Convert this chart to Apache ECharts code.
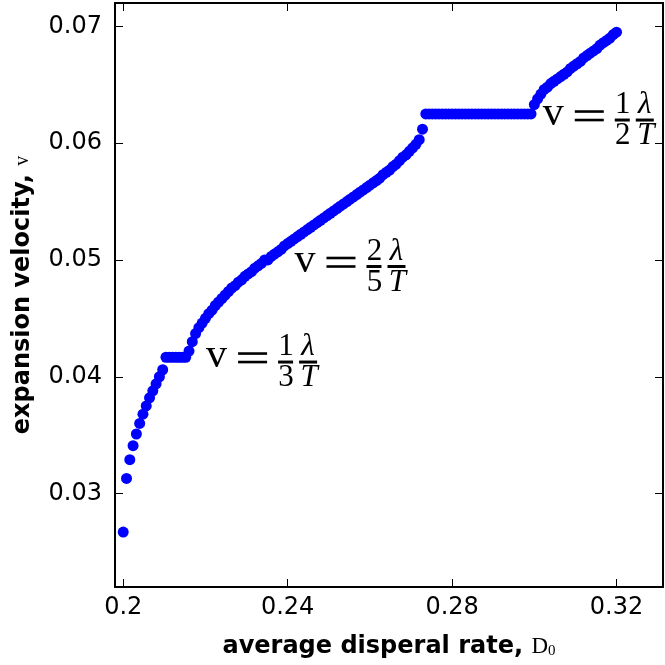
<!DOCTYPE html>
<html>
<head>
<meta charset="utf-8">
<script src="https://cdn.jsdelivr.net/npm/echarts@6/dist/echarts.min.js"></script>
<style>
  html, body { margin: 0; padding: 0; background: #fff; }
  #chart { width: 665px; height: 665px; }
</style>
</head>
<body>
<div id="chart"></div>
<script>
// average dispersal rate D0
const rateD0 = [
  0.2000, 0.2008, 0.2016, 0.2024, 0.2032, 0.2040, 0.2048, 0.2056, 0.2064, 0.2072,
  0.2080, 0.2088, 0.2096, 0.2104, 0.2112, 0.2120, 0.2128, 0.2136, 0.2144, 0.2152,
  0.2160, 0.2168, 0.2176, 0.2184, 0.2192, 0.2200, 0.2208, 0.2216, 0.2224, 0.2232,
  0.2240, 0.2248, 0.2256, 0.2264, 0.2272, 0.2280, 0.2288, 0.2296, 0.2304, 0.2312,
  0.2320, 0.2328, 0.2336, 0.2344, 0.2352, 0.2360, 0.2368, 0.2376, 0.2384, 0.2392,
  0.2400, 0.2408, 0.2416, 0.2424, 0.2432, 0.2440, 0.2448, 0.2456, 0.2464, 0.2472,
  0.2480, 0.2488, 0.2496, 0.2504, 0.2512, 0.2520, 0.2528, 0.2536, 0.2544, 0.2552,
  0.2560, 0.2568, 0.2576, 0.2584, 0.2592, 0.2600, 0.2608, 0.2616, 0.2624, 0.2632,
  0.2640, 0.2648, 0.2656, 0.2664, 0.2672, 0.2680, 0.2688, 0.2696, 0.2704, 0.2712,
  0.2720, 0.2728, 0.2736, 0.2744, 0.2752, 0.2760, 0.2768, 0.2776, 0.2784, 0.2792,
  0.2800, 0.2808, 0.2816, 0.2824, 0.2832, 0.2840, 0.2848, 0.2856, 0.2864, 0.2872,
  0.2880, 0.2888, 0.2896, 0.2904, 0.2912, 0.2920, 0.2928, 0.2936, 0.2944, 0.2952,
  0.2960, 0.2968, 0.2976, 0.2984, 0.2992, 0.3000, 0.3008, 0.3016, 0.3024, 0.3032,
  0.3040, 0.3048, 0.3056, 0.3064, 0.3072, 0.3080, 0.3088, 0.3096, 0.3104, 0.3112,
  0.3120, 0.3128, 0.3136, 0.3144, 0.3152, 0.3160, 0.3168, 0.3176, 0.3184, 0.3192,
  0.3200
];

// expansion velocity v
const velocity = [
  0.0267, 0.0313, 0.0329, 0.0341, 0.0351, 0.0360, 0.0368, 0.0375, 0.0382, 0.0388,
  0.0394, 0.0400, 0.0406, 0.04167, 0.04167, 0.04167, 0.04167, 0.04167, 0.04167, 0.04167,
  0.0422, 0.0430, 0.0437, 0.0442, 0.0446, 0.0450, 0.0454, 0.0457, 0.0461, 0.0464,
  0.0467, 0.0470, 0.0473, 0.0476, 0.0478, 0.0481, 0.0483, 0.0486, 0.0488, 0.0490,
  0.0493, 0.0495, 0.0497, 0.0500, 0.0500, 0.0503, 0.0505, 0.0507, 0.0509, 0.0512,
  0.0514, 0.0516, 0.0518, 0.0520, 0.0522, 0.0524, 0.0526, 0.0528, 0.0530, 0.0532,
  0.0534, 0.0536, 0.0538, 0.0540, 0.0542, 0.0544, 0.0546, 0.0548, 0.0550, 0.0552,
  0.0554, 0.0556, 0.0558, 0.0560, 0.0562, 0.0564, 0.0566, 0.0568, 0.0570, 0.0573,
  0.0575, 0.0577, 0.0580, 0.0582, 0.0585, 0.0588, 0.0590, 0.0593, 0.0596, 0.0599,
  0.0603, 0.0612, 0.0625, 0.0625, 0.0625, 0.0625, 0.0625, 0.0625, 0.0625, 0.0625,
  0.0625, 0.0625, 0.0625, 0.0625, 0.0625, 0.0625, 0.0625, 0.0625, 0.0625, 0.0625,
  0.0625, 0.0625, 0.0625, 0.0625, 0.0625, 0.0625, 0.0625, 0.0625, 0.0625, 0.0625,
  0.0625, 0.0625, 0.0625, 0.0625, 0.0625, 0.0633, 0.0638, 0.0642, 0.0646, 0.0648,
  0.0651, 0.0653, 0.0655, 0.0657, 0.0659, 0.0661, 0.0664, 0.0666, 0.0668, 0.0670,
  0.0673, 0.0675, 0.0677, 0.0679, 0.0681, 0.0684, 0.0686, 0.0688, 0.0690, 0.0693,
  0.0695
];

const xTicks = [0.2, 0.24, 0.28, 0.32];
const yTicks = [0.03, 0.04, 0.05, 0.06, 0.07];

// annotation anchors (data coords of the "v" left edge / fraction bar), and fractions
const annoX = [0.2204, 0.2419, 0.3023];
const annoY = [0.04126, 0.04944, 0.06198];
const annoNum = ['1', '2', '1'];
const annoDen = ['3', '5', '2'];

const chart = echarts.init(document.getElementById('chart'));

const black = '#000';
const sans = '"DejaVu Sans", sans-serif';
const serif = '"Liberation Serif", "DejaVu Serif", serif';

function frameAxis(pos, min, max, ticks, showLabels, margin) {
  return {
    type: 'value',
    position: pos,
    min: min,
    max: max,
    axisLine: { show: true, onZero: false, lineStyle: { color: black, width: 2 } },
    axisTick: { show: true, inside: true, length: 8, customValues: ticks, lineStyle: { color: black, width: 1 } },
    axisLabel: {
      show: showLabels,
      customValues: ticks,
      formatter: (v) => String(+v.toFixed(4)),
      color: black,
      fontSize: 24,
      fontFamily: sans,
      margin: margin || 10,
    },
    splitLine: { show: false },
  };
}

const xBottom = frameAxis('bottom', 0.198, 0.3313, xTicks, true, 9);
xBottom.name = '{b|average disperal rate, }{m|D}{s|0}';
xBottom.nameLocation = 'middle';
xBottom.nameGap = 47;
xBottom.nameTextStyle = {
  rich: {
    b: { fontWeight: 'bold', fontSize: 24, fontFamily: sans, color: black },
    m: { fontSize: 23, fontFamily: serif, color: black },
    s: { fontSize: 15, fontFamily: serif, color: black, padding: [10, 0, 0, 0] },
  },
};

const yLeft = frameAxis('left', 0.022, 0.072, yTicks, true, 13);
yLeft.name = '{b|expansion velocity, }{m|v}';
yLeft.nameLocation = 'middle';
yLeft.nameGap = 80;
yLeft.nameTextStyle = {
  rich: {
    b: { fontWeight: 'bold', fontSize: 24, fontFamily: sans, color: black },
    m: { fontSize: 20, fontFamily: serif, color: black },
  },
};

const option = {
  animation: false,
  backgroundColor: '#fff',
  grid: { left: 115, right: 2, top: 3, bottom: 78, containLabel: false },
  xAxis: [xBottom, frameAxis('top', 0.198, 0.3313, xTicks, false)],
  yAxis: [yLeft, frameAxis('right', 0.022, 0.072, yTicks, false)],
  series: [
    {
      type: 'scatter',
      xAxisIndex: 0,
      yAxisIndex: 0,
      symbol: 'circle',
      symbolSize: 11,
      itemStyle: { color: '#0000ff', opacity: 1 },
      data: rateD0.map((x, i) => [x, velocity[i]]),
    },
  ],
};

chart.setOption(option);

// build the "v = a/b λ/T" labels from graphic pieces
function txt(x, y, s, size, italic, align) {
  return {
    type: 'text', x: x, y: y, silent: true,
    style: {
      text: s, fontSize: size, fontFamily: serif, fontStyle: italic ? 'italic' : 'normal',
      fill: black, align: align || 'center', verticalAlign: 'middle',
    },
  };
}
function bar(x, y, w, h) {
  return { type: 'rect', silent: true, shape: { x: x, y: y - h / 2, width: w, height: h }, style: { fill: black } };
}

const graphics = [];
annoX.forEach((ax, i) => {
  const p = chart.convertToPixel({ gridIndex: 0 }, [ax, annoY[i]]);
  const ox = p[0], oy = p[1];
  graphics.push(txt(ox - 1, oy - 6, 'v', 42, false, 'left'));
  graphics.push(bar(ox + 31, oy - 8.5, 29, 2.6));
  graphics.push(bar(ox + 31, oy, 29, 2.6));
  graphics.push(txt(ox + 79, oy - 15, annoNum[i], 31, false));
  graphics.push(bar(ox + 71, oy, 15, 3));
  graphics.push(txt(ox + 79, oy + 16, annoDen[i], 31, false));
  graphics.push(txt(ox + 101, oy - 15, 'λ', 31, true));
  graphics.push(bar(ox + 92, oy, 18, 3));
  graphics.push(txt(ox + 102, oy + 16, 'T', 31, true));
});
chart.setOption({ graphic: graphics });

window.addEventListener('resize', () => chart.resize());
</script>
</body>
</html>
